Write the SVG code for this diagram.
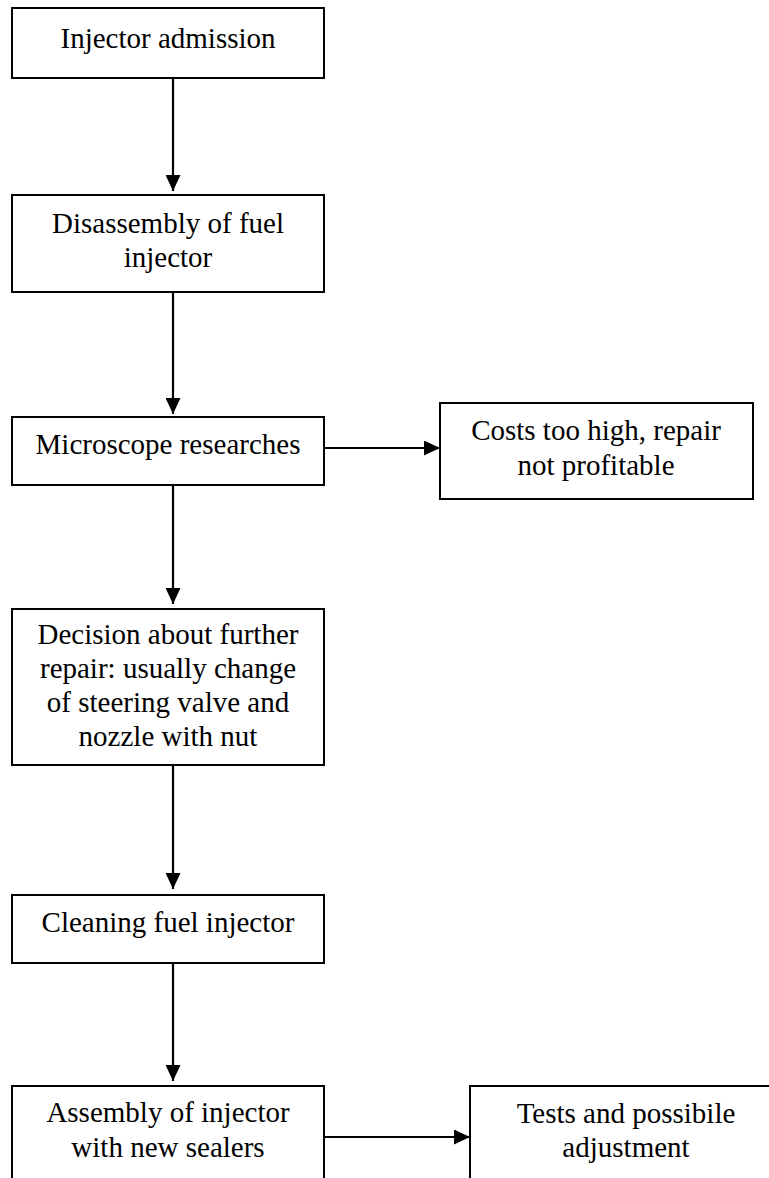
<svg xmlns="http://www.w3.org/2000/svg" width="769" height="1178" viewBox="0 0 769 1178">
<style>
.box{fill:#fff;stroke:#000;stroke-width:2}
.t{font-family:"Liberation Serif","Times New Roman",serif;font-size:29px;fill:#000;text-anchor:middle}
.c{stroke:#000;stroke-width:2.2;fill:none;marker-end:url(#ah)}
</style>
<defs>
<marker id="ah" viewBox="0 0 16 15" refX="16" refY="7.5" markerWidth="16" markerHeight="15" markerUnits="userSpaceOnUse" orient="auto">
<path d="M0,0 L16,7.5 L0,15 Z" fill="#000"/>
</marker>
</defs>
<rect width="769" height="1178" fill="#fff"/>
<g id="connectors">
<line class="c" x1="173" y1="79" x2="173" y2="191"/>
<line class="c" x1="173" y1="293" x2="173" y2="414"/>
<line class="c" x1="324" y1="448" x2="440" y2="448"/>
<line class="c" x1="173" y1="486" x2="173" y2="604"/>
<line class="c" x1="173" y1="766" x2="173" y2="889"/>
<line class="c" x1="173" y1="964" x2="173" y2="1081"/>
<line class="c" x1="324" y1="1137" x2="470" y2="1137"/>
</g>
<g id="n1"><rect class="box" x="12" y="8" width="312" height="70"/><text class="t" x="168" y="48">Injector admission</text></g>
<g id="n2"><rect class="box" x="12" y="195" width="312" height="97"/><text class="t" x="168" y="233">Disassembly of fuel</text><text class="t" x="168" y="267">injector</text></g>
<g id="n3"><rect class="box" x="12" y="417" width="312" height="68"/><text class="t" x="168" y="454">Microscope researches</text></g>
<g id="n4"><rect class="box" x="440" y="403" width="313" height="96"/><text class="t" x="596" y="440">Costs too high, repair</text><text class="t" x="596" y="475">not profitable</text></g>
<g id="n5"><rect class="box" x="12" y="609" width="312" height="156"/><text class="t" x="168" y="644">Decision about further</text><text class="t" x="168" y="678">repair: usually change</text><text class="t" x="168" y="712">of steering valve and</text><text class="t" x="168" y="746">nozzle with nut</text></g>
<g id="n6"><rect class="box" x="12" y="895" width="312" height="68"/><text class="t" x="168" y="932">Cleaning fuel injector</text></g>
<g id="n7"><rect class="box" x="12" y="1086" width="312" height="100"/><text class="t" x="168" y="1122">Assembly of injector</text><text class="t" x="168" y="1157">with new sealers</text></g>
<g id="n8"><rect class="box" x="470" y="1086" width="312" height="100"/><text class="t" x="626" y="1123">Tests and possibile</text><text class="t" x="626" y="1157">adjustment</text></g>
</svg>
